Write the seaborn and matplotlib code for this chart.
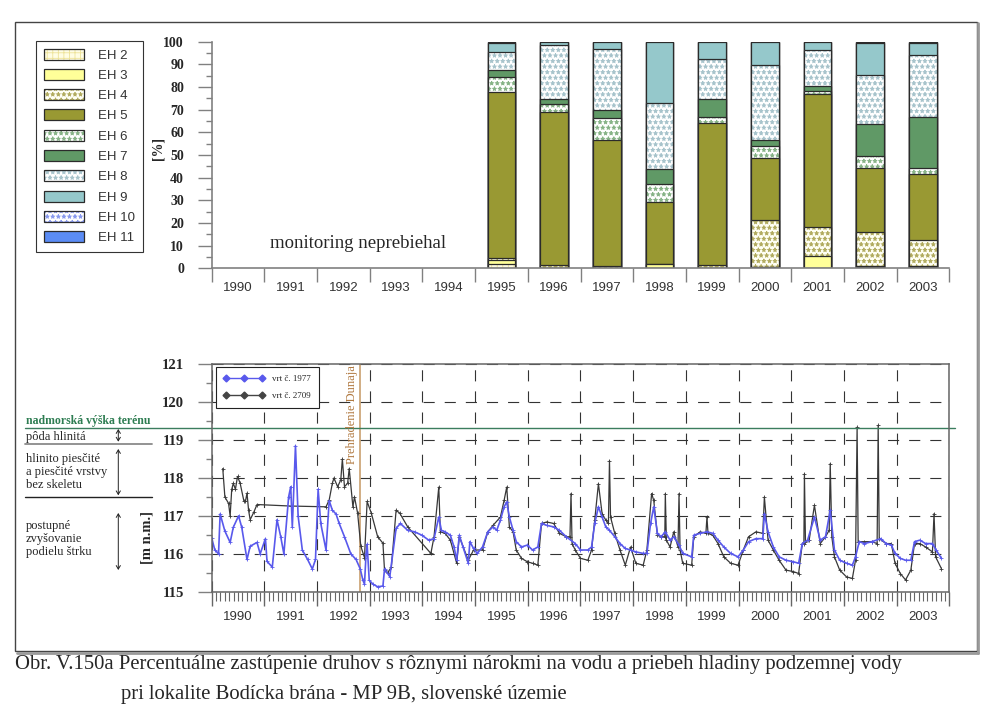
import numpy as np
import matplotlib.pyplot as plt
import seaborn as sns
from matplotlib.patches import Patch, Rectangle, FancyArrowPatch
from matplotlib.lines import Line2D
from matplotlib.legend_handler import HandlerTuple

# ---------------- data ----------------
years_all = ['1990', '1991', '1992', '1993', '1994', '1995', '1996',
             '1997', '1998', '1999', '2000', '2001', '2002', '2003']
bar_years = ['1995', '1996', '1997', '1998', '1999', '2000', '2001', '2002', '2003']
eh_names = ['EH 2', 'EH 3', 'EH 4', 'EH 5', 'EH 6', 'EH 7', 'EH 8', 'EH 9', 'EH 10', 'EH 11']

# percentage share of each group per year (1995-2003)
eh2 = [1.8, 0.3, 0.0, 0.0, 0.0, 0.5, 0.3, 0.6, 0.5]
eh3 = [2.0, 0.0, 0.0, 2.1, 0.0, 0.0, 5.0, 0.6, 0.4]
eh4 = [0.9, 1.0, 1.0, 0.0, 1.5, 20.7, 12.9, 14.7, 11.5]
eh5 = [72.9, 67.5, 55.6, 27.0, 62.5, 27.3, 58.6, 28.5, 29.4]
eh6 = [7.0, 3.6, 9.9, 8.3, 2.9, 5.6, 1.4, 5.3, 2.6]
eh7 = [2.9, 2.3, 3.5, 6.3, 7.7, 2.7, 2.2, 13.8, 22.5]
eh8 = [8.1, 23.7, 26.6, 29.2, 17.6, 32.8, 15.8, 21.6, 27.1]
eh9 = [3.7, 1.6, 3.4, 27.1, 7.8, 10.4, 3.8, 14.3, 5.4]
eh10 = [0.7, 0.0, 0.0, 0.0, 0.0, 0.0, 0.0, 0.3, 0.3]
eh11 = [0.0, 0.0, 0.0, 0.0, 0.0, 0.0, 0.0, 0.3, 0.3]

# groundwater level, well 1977 (decimal year, m a.s.l.)
blue_t = [1990.00, 1990.06, 1990.13, 1990.16, 1990.25, 1990.35, 1990.41, 1990.51, 1990.57,
          1990.67, 1990.73, 1990.86, 1990.92, 1991.02, 1991.05, 1991.15, 1991.24, 1991.31,
          1991.37, 1991.46, 1991.50, 1991.53, 1991.59, 1991.64, 1991.72, 1991.82, 1991.91,
          1991.97, 1992.02, 1992.07, 1992.17, 1992.23, 1992.29, 1992.36, 1992.42, 1992.52,
          1992.64, 1992.74, 1992.82, 1992.87, 1992.90, 1992.93, 1992.95, 1992.99, 1993.06,
          1993.15, 1993.25, 1993.28, 1993.38, 1993.50, 1993.58, 1993.72, 1993.85, 1993.99,
          1994.12, 1994.22, 1994.31, 1994.36, 1994.43, 1994.53, 1994.60, 1994.65, 1994.70,
          1994.77, 1994.87, 1994.90, 1994.97, 1995.04, 1995.14, 1995.24, 1995.34, 1995.41,
          1995.48, 1995.55, 1995.60, 1995.65, 1995.72, 1995.78, 1995.88, 1995.99, 1996.09,
          1996.19, 1996.26, 1996.36, 1996.49, 1996.60, 1996.73, 1996.90, 1997.00, 1997.14,
          1997.21, 1997.27, 1997.34, 1997.41, 1997.48, 1997.55, 1997.65, 1997.75, 1997.85,
          1997.95, 1998.05, 1998.19, 1998.26, 1998.33, 1998.39, 1998.46, 1998.53, 1998.61,
          1998.70, 1998.77, 1998.87, 1998.94, 1999.11, 1999.15, 1999.27, 1999.40, 1999.51,
          1999.61, 1999.72, 1999.85, 1999.99, 2000.09, 2000.19, 2000.33, 2000.46, 2000.49,
          2000.56, 2000.66, 2000.77, 2000.90, 2001.04, 2001.14, 2001.21, 2001.31, 2001.44,
          2001.55, 2001.65, 2001.74, 2001.82, 2001.92, 2002.05, 2002.16, 2002.22, 2002.29,
          2002.39, 2002.53, 2002.70, 2002.80, 2002.90, 2002.97, 2003.07, 2003.17, 2003.27,
          2003.34, 2003.44, 2003.55, 2003.68, 2003.75, 2003.85]
blue_v = [116.41, 116.10, 116.00, 117.05, 116.60, 116.30, 116.70, 117.00, 116.70,
          115.85, 116.20, 116.30, 116.00, 116.40, 115.80, 115.65, 116.90, 116.45,
          116.00, 117.50, 117.77, 116.70, 118.85, 117.00, 116.10, 115.85, 115.60,
          115.85, 117.70, 116.80, 116.10, 117.40, 117.15, 117.05, 116.80, 116.45,
          116.00, 115.85, 115.60, 115.30, 115.20, 116.00, 116.25, 115.30, 115.20,
          115.13, 115.15, 115.60, 115.40, 116.67, 116.80, 116.62, 116.58, 116.49,
          116.36, 116.40, 116.97, 116.62, 116.58, 116.49, 116.18, 115.83, 116.49,
          116.18, 115.75, 116.32, 116.14, 116.01, 116.18, 116.58, 116.71, 116.62,
          116.89, 117.24, 117.37, 116.97, 116.62, 116.32, 116.18, 116.23, 116.10,
          116.18, 116.80, 116.75, 116.71, 116.62, 116.45, 116.27, 116.10, 116.10,
          116.18, 116.80, 117.24, 116.97, 116.71, 116.62, 116.45, 116.27, 116.14,
          116.10, 116.05, 116.01, 116.01, 116.80, 117.24, 116.54, 116.45, 116.58,
          116.36, 116.45, 116.23, 116.01, 115.92, 116.49, 116.54, 116.58, 116.54,
          116.36, 116.18, 116.01, 115.92, 116.10, 116.32, 116.40, 116.40, 117.06,
          116.58, 116.18, 115.92, 115.83, 115.79, 115.75, 116.27, 116.36, 116.97,
          116.36, 116.45, 117.15, 116.10, 115.83, 115.75, 115.70, 115.92, 116.32,
          116.27, 116.32, 116.40, 116.27, 116.23, 116.01, 115.88, 115.83, 115.83,
          116.32, 116.36, 116.27, 116.27, 116.10, 115.88]

# groundwater level, well 2709
black_t = [1990.21, 1990.25, 1990.32, 1990.35, 1990.38, 1990.41, 1990.45, 1990.49, 1990.54,
           1990.61, 1990.64, 1990.67, 1990.70, 1990.73, 1990.80, 1990.86, 1991.50, 1992.17,
           1992.23, 1992.29, 1992.32, 1992.39, 1992.45, 1992.48, 1992.52, 1992.58, 1992.61,
           1992.68, 1992.71, 1992.77, 1992.83, 1992.90, 1992.95, 1993.03, 1993.15, 1993.25,
           1993.28, 1993.34, 1993.41, 1993.50, 1993.57, 1993.72, 1994.16, 1994.22, 1994.31,
           1994.34, 1994.43, 1994.53, 1994.65, 1994.70, 1994.87, 1994.97, 1995.14, 1995.24,
           1995.34, 1995.48, 1995.55, 1995.60, 1995.65, 1995.72, 1995.78, 1995.88, 1995.99,
           1996.09, 1996.19, 1996.26, 1996.36, 1996.49, 1996.60, 1996.73, 1996.80, 1996.82,
           1996.84, 1996.90, 1997.00, 1997.14, 1997.21, 1997.27, 1997.34, 1997.41, 1997.48,
           1997.53, 1997.55, 1997.57, 1997.65, 1997.75, 1997.85, 1997.95, 1998.05, 1998.19,
           1998.26, 1998.35, 1998.39, 1998.46, 1998.53, 1998.60, 1998.61, 1998.63, 1998.70,
           1998.77, 1998.85, 1998.87, 1998.89, 1998.94, 1999.11, 1999.15, 1999.27, 1999.38,
           1999.40, 1999.42, 1999.51, 1999.61, 1999.72, 1999.85, 1999.99, 2000.09, 2000.19,
           2000.33, 2000.46, 2000.49, 2000.56, 2000.66, 2000.77, 2000.90, 2001.04, 2001.14,
           2001.21, 2001.24, 2001.25, 2001.27, 2001.34, 2001.44, 2001.55, 2001.65, 2001.72,
           2001.74, 2001.77, 2001.82, 2001.92, 2002.05, 2002.16, 2002.22, 2002.25, 2002.27,
           2002.39, 2002.53, 2002.63, 2002.65, 2002.67, 2002.80, 2002.90, 2002.97, 2003.07,
           2003.17, 2003.27, 2003.34, 2003.44, 2003.55, 2003.68, 2003.71, 2003.74, 2003.85]
black_v = [118.25, 117.50, 117.33, 117.00, 117.70, 117.86, 117.70, 118.04, 117.86,
           117.40, 117.38, 117.60, 117.15, 116.90, 117.10, 117.30, 117.26, 117.24,
           117.42, 117.86, 118.00, 117.77, 117.95, 118.50, 117.77, 117.86, 118.25,
           117.24, 117.50, 117.07, 116.20, 115.90, 117.38, 117.07, 116.45, 116.28,
           115.57, 115.50, 115.65, 117.15, 117.07, 116.71, 116.01, 116.45, 117.76,
           116.58, 116.54, 116.36, 115.75, 116.45, 115.83, 116.10, 116.10, 116.58,
           116.75, 116.97, 117.41, 117.76, 116.71, 116.58, 116.10, 115.88, 115.79,
           115.75, 115.70, 116.80, 116.84, 116.80, 116.54, 116.45, 116.45, 117.59,
           116.27, 116.10, 115.88, 115.83, 116.10, 116.89, 117.85, 117.06, 116.89,
           116.80, 118.46, 116.97, 116.54, 116.10, 115.70, 116.18, 115.75, 115.70,
           116.10, 117.59, 117.41, 116.49, 116.45, 116.45, 117.59, 116.36, 116.18,
           116.58, 116.18, 117.59, 116.10, 115.75, 115.70, 116.45, 116.58, 116.54,
           116.97, 116.54, 116.49, 116.27, 115.92, 115.75, 115.70, 116.10, 116.45,
           116.58, 116.54, 117.50, 116.36, 116.10, 115.83, 115.57, 115.53, 115.48,
           116.27, 116.27, 118.11, 116.32, 116.36, 117.28, 116.27, 116.45, 116.62,
           118.38, 116.45, 115.92, 115.57, 115.39, 115.35, 115.83, 119.34, 116.32,
           116.32, 116.32, 116.27, 119.39, 116.40, 116.27, 116.27, 115.75, 115.48,
           115.31, 115.57, 116.27, 116.27, 116.18, 116.05, 117.06, 115.92, 115.61]

terrain_level = 119.33
damming_year = 1992.82

# ---------------- styling ----------------
sns.set_style('white')
plt.rcParams['font.family'] = ['Liberation Serif', 'DejaVu Serif']
plt.rcParams['hatch.linewidth'] = 0.6

W, H = 996, 720
fig = plt.figure(figsize=(9.96, 7.2), dpi=100)


def fx(x):
    return x / W


def fy(y):
    return 1 - y / H


edge = '#2b2b2b'
styles = [  # face, hatch, hatch colour
    ('#fffde4', '+++', '#eee39a'),
    ('#ffff99', None, None),
    ('#fffff4', '***', '#b1ab5e'),
    ('#999933', None, None),
    ('#ffffff', '***', '#85b285'),
    ('#609966', None, None),
    ('#ffffff', '***', '#a6c3cb'),
    ('#95c8cb', None, None),
    ('#ffffff', '***', '#8798ee'),
    ('#5b8cf5', None, None),
]

# ---------------- top chart: stacked bars ----------------
ax1 = fig.add_axes([fx(211.7), fy(268.3), (949.3 - 211.7) / W, (268.3 - 41.7) / H])
layers = [eh2, eh3, eh4, eh5, eh6, eh7, eh8, eh9, eh10, eh11]
cum = np.cumsum(np.array(layers), axis=0)

for i in range(len(layers) - 1, -1, -1):
    face, hatch, hcol = styles[i]
    n0 = len(ax1.patches)
    sns.barplot(x=bar_years, y=cum[i], order=years_all, width=0.525, color=face,
                saturation=1, errorbar=None, ax=ax1)
    for p in ax1.patches[n0:]:
        p.set_facecolor(face)
        if hatch:
            p.set_hatch(hatch)
            p.set_edgecolor(hcol)
            p.set_linewidth(0)
        else:
            p.set_edgecolor(edge)
            p.set_linewidth(0.9)
    if hatch:
        n0 = len(ax1.patches)
        sns.barplot(x=bar_years, y=cum[i], order=years_all, width=0.525, color=face,
                    saturation=1, errorbar=None, ax=ax1)
        for p in ax1.patches[n0:]:
            p.set_facecolor('none')
            p.set_edgecolor(edge)
            p.set_linewidth(0.9)

ax1.set_xlim(-0.5, 13.5)
ax1.set_ylim(0, 100)
ax1.set_xlabel('')
ax1.set_ylabel('')
ax1.set_yticks(range(0, 101, 10))
ax1.set_yticks(range(5, 100, 10), minor=True)
ax1.set_xticks(np.arange(-0.5, 14, 1))
ax1.set_xticklabels([])
for s in ['top', 'right']:
    ax1.spines[s].set_visible(False)
for s in ['left', 'bottom']:
    ax1.spines[s].set_color('#808080')
    ax1.spines[s].set_linewidth(1.2)
ax1.tick_params(axis='y', which='major', left=True, length=10, width=1, color='#808080',
                pad=10, labelsize=10)
ax1.tick_params(axis='y', which='minor', left=True, length=4.3, width=1, color='#808080')
ax1.tick_params(axis='x', which='major', bottom=True, length=10, width=1, color='#808080')
for t in ax1.get_yticklabels():
    t.set_fontweight('bold')
for i, yr in enumerate(years_all):
    ax1.text(i, -0.088, yr, transform=ax1.get_xaxis_transform(), ha='center', va='center',
             family=['Liberation Sans', 'DejaVu Sans'], fontsize=9.5, color='#333333')

fig.text(fx(270), fy(243), 'monitoring neprebiehal', fontsize=13.5, va='center')
fig.text(fx(158), fy(149), '[%]', rotation=90, fontweight='bold', fontsize=10,
         ha='center', va='center')

handles = []
for face, hatch, hcol in styles:
    if hatch:
        handles.append((Patch(facecolor=face, hatch=hatch, edgecolor=hcol, linewidth=0),
                        Patch(facecolor='none', edgecolor=edge, linewidth=0.9)))
    else:
        handles.append(Patch(facecolor=face, edgecolor=edge, linewidth=0.9))
leg1 = fig.legend(handles, eh_names, loc='upper left', bbox_to_anchor=(fx(36), fy(40.7)),
                  bbox_transform=fig.transFigure, borderaxespad=0, fancybox=False,
                  edgecolor='#333333', framealpha=1,
                  prop={'family': 'Liberation Sans', 'size': 9.5},
                  handlelength=3.0, handleheight=0.9, labelspacing=0.55,
                  handletextpad=1.1, borderpad=0.6,
                  handler_map={tuple: HandlerTuple(ndivide=1)})
leg1.get_frame().set_linewidth(0.8)
for t in leg1.get_texts():
    t.set_color('#333333')

# ---------------- bottom chart: groundwater levels ----------------
ax2 = fig.add_axes([fx(211.7), fy(591.7), (949.3 - 211.7) / W, (591.7 - 364.3) / H])
blue = '#5959ec'
dark = '#383838'
sns.lineplot(x=black_t, y=black_v, ax=ax2, color=dark, linewidth=0.9, marker='+',
             markersize=2.5, markeredgewidth=0.6, markeredgecolor=dark,
             estimator=None, sort=False, legend=False)
sns.lineplot(x=blue_t, y=blue_v, ax=ax2, color=blue, linewidth=1.2, marker='+',
             markersize=2.5, markeredgewidth=0.6, markeredgecolor=blue,
             estimator=None, sort=False, legend=False)

ax2.set_xlim(1990, 2004)
ax2.set_ylim(115, 121)
ax2.set_xlabel('')
ax2.set_ylabel('')
ax2.set_xticks(range(1990, 2005))
ax2.set_xticklabels([])
ax2.set_xticks(np.arange(1990, 2004.001, 1 / 12), minor=True)
ax2.set_yticks(range(115, 122))
ax2.set_yticks(np.arange(115.5, 121, 1), minor=True)
ax2.grid(True, which='major', color='#333333', linewidth=0.8, linestyle=(0, (10, 9)))
ax2.set_axisbelow(True)
for s in ax2.spines.values():
    s.set_color('#666666')
    s.set_linewidth(1.1)
ax2.tick_params(axis='y', which='major', left=True, length=10, width=1, color='#808080',
                pad=10, labelsize=10.5)
ax2.tick_params(axis='y', which='minor', left=True, length=4.3, width=1, color='#808080')
ax2.tick_params(axis='x', which='major', bottom=True, length=10, width=1, color='#666666')
ax2.tick_params(axis='x', which='minor', bottom=True, length=6.5, width=0.8, color='#666666')
for t in ax2.get_yticklabels():
    t.set_fontweight('bold')
for i, yr in enumerate(years_all):
    ax2.text(1990.5 + i, -0.11, yr, transform=ax2.get_xaxis_transform(), ha='center',
             va='center', family=['Liberation Sans', 'DejaVu Sans'], fontsize=9.5,
             color='#333333')

ax2.axvline(damming_year, color='#c9a06e', linewidth=1.2, zorder=1.5)
ax2.text(damming_year - 0.16, 120.97, 'Prehradenie Dunaja', rotation=90, ha='center',
         va='top', color='#b0783f', fontsize=9)
ax2.axhline(terrain_level, xmin=(25 - 211.7) / 737.6, xmax=(955 - 211.7) / 737.6,
            clip_on=False, color='#3b7d5e', linewidth=1)

h1 = Line2D([], [], color=blue, marker='D', markersize=3.5, linewidth=1)
h2 = Line2D([], [], color='#444444', marker='D', markersize=3.5, linewidth=1)
leg2 = ax2.legend([h1, h2], ['vrt č. 1977', 'vrt č. 2709'], loc='upper left',
                  bbox_to_anchor=((216 - 211.7) / 737.6, 1 - (366.7 - 364.3) / 227.4),
                  borderaxespad=0, fancybox=False, edgecolor='#222222', framealpha=1,
                  prop={'family': 'Liberation Serif', 'size': 6.5}, numpoints=3,
                  handlelength=4.6, handletextpad=0.8, labelspacing=1.0, borderpad=0.85)
leg2.get_frame().set_linewidth(0.8)

fig.text(fx(147), fy(538), '[m n.m.]', rotation=90, fontweight='bold', fontsize=10.5,
         ha='center', va='center')

# ---------------- soil profile annotation ----------------
fig.text(fx(26), fy(421), 'nadmorská výška terénu', color='#2e7d52', fontweight='bold',
         fontsize=8.5, va='center')
fig.text(fx(26), fy(437), 'pôda hlinitá', fontsize=9, va='center')
fig.add_artist(Line2D([fx(25), fx(151.7)], [fy(443.7)] * 2, color='#8a8a8a', lw=1.3))
fig.text(fx(26), fy(472), 'hlinito piesčité\na piesčité vrstvy\nbez skeletu', fontsize=9,
         va='center', linespacing=1.1)
fig.add_artist(Line2D([fx(25), fx(151.7)], [fy(497)] * 2, color='#222222', lw=1))
fig.text(fx(26), fy(539), 'postupné\nzvyšovanie\npodielu štrku', fontsize=9, va='center',
         linespacing=1.1)
for y0, y1 in [(429, 441.7), (449, 495.3), (513, 570)]:
    fig.add_artist(FancyArrowPatch((fx(118.3), fy(y0)), (fx(118.3), fy(y1)),
                                   transform=fig.transFigure,
                                   arrowstyle='<->,head_length=2.5,head_width=1.5',
                                   mutation_scale=1, shrinkA=0, shrinkB=0,
                                   lw=0.7, color='#222222'))

# ---------------- frame and caption ----------------
fig.add_artist(Rectangle((fx(15), fy(651)), (976.7 - 15) / W, (651 - 21.7) / H,
                         transform=fig.transFigure, fill=False, edgecolor='#444444', lw=1))
fig.add_artist(Line2D([fx(978), fx(978)], [fy(23), fy(653)], color='#9a9a9a', lw=2))
fig.add_artist(Line2D([fx(17), fx(978)], [fy(652.5), fy(652.5)], color='#9a9a9a', lw=2))

fig.text(fx(15), fy(665), 'Obr. V.150a Percentuálne zastúpenie druhov s rôznymi nárokmi '
         'na vodu a priebeh hladiny podzemnej vody', fontsize=14.9, va='center')
fig.text(fx(121), fy(694), 'pri lokalite Bodícka brána - MP 9B, slovenské územie',
         fontsize=14.9, va='center')

fig.savefig('out.png', dpi=100)
